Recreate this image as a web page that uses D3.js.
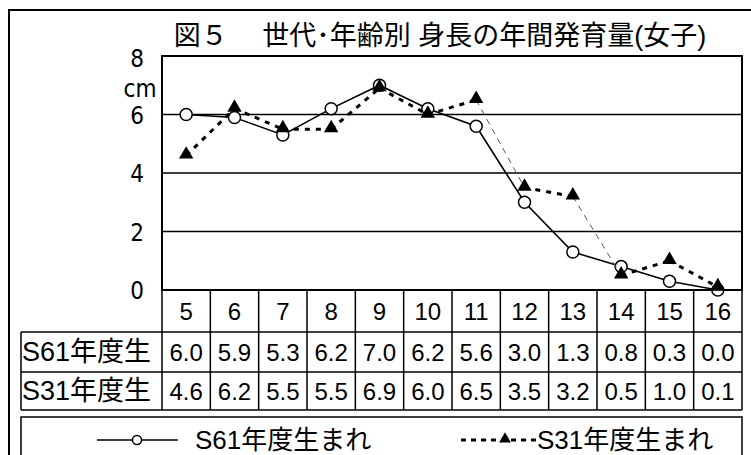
<!DOCTYPE html>
<html>
<head>
<meta charset="utf-8">
<script src="https://cdn.jsdelivr.net/npm/d3@7"></script>
<style>
  body { margin: 0; background: #fff; }
  svg text { fill: #000; }
</style>
</head>
<body>
<div id="chart"></div>
<script>
const ages = ["5", "6", "7", "8", "9", "10", "11", "12", "13", "14", "15", "16"];
const s61 = [6.0, 5.9, 5.3, 6.2, 7.0, 6.2, 5.6, 3.0, 1.3, 0.8, 0.3, 0.0];
const s31 = [4.6, 6.2, 5.5, 5.5, 6.9, 6.0, 6.5, 3.5, 3.2, 0.5, 1.0, 0.1];
const rowLabels = ["S61年度生", "S31年度生"];
const legendLabels = ["S61年度生まれ", "S31年度生まれ"];
const yTicks = [0, 2, 4, 6, 8];
const title = "図５　 世代･年齢別 身長の年間発育量(女子)";

const W = 751, H = 455;
const plot = { left: 162, right: 742, top: 56, bottom: 290 };
const latin = "'Liberation Sans', Arial, sans-serif";
const cjk = "'Liberation Sans', 'Noto Sans CJK JP', sans-serif";
const narrow = "'Liberation Sans Narrow', 'DejaVu Sans Condensed', sans-serif";

const svg = d3.select("#chart").append("svg")
  .attr("width", W).attr("height", H);

// outer frame (runs past the right and bottom edges)
svg.append("rect")
  .attr("x", 9).attr("y", 10).attr("width", 760).attr("height", 470)
  .attr("fill", "none").attr("stroke", "#000").attr("stroke-width", 2);

svg.append("text")
  .attr("x", 440).attr("y", 45)
  .attr("text-anchor", "middle")
  .style("font-family", cjk).style("font-size", "27px")
  .text(title);

const x = d3.scaleBand().domain(ages).range([plot.left, plot.right]);
const y = d3.scaleLinear().domain([0, 8]).range([plot.bottom, plot.top]);
const cx = d => x(d) + x.bandwidth() / 2;

// gridlines
svg.append("g").selectAll("line")
  .data(yTicks.filter(t => t > 0 && t < 8))
  .join("line")
  .attr("x1", plot.left).attr("x2", plot.right)
  .attr("y1", d => y(d)).attr("y2", d => y(d))
  .attr("stroke", "#000").attr("stroke-width", 1.5);

// plot frame
svg.append("rect")
  .attr("x", plot.left).attr("y", plot.top)
  .attr("width", plot.right - plot.left).attr("height", plot.bottom - plot.top)
  .attr("fill", "none").attr("stroke", "#000").attr("stroke-width", 2);

// y axis labels
const yAxis = svg.append("g")
  .attr("transform", `translate(${plot.left - 14},0)`)
  .call(d3.axisLeft(y).tickValues(yTicks).tickSize(0).tickPadding(0));
yAxis.select(".domain").remove();
yAxis.selectAll("text")
  .attr("text-anchor", "middle").attr("x", -11)
  .attr("dy", d => d === 8 ? "0.45em" : "0.36em")
  .style("font-family", narrow)
  .style("font-size", "24px").attr("fill", "#000");
svg.append("text")
  .attr("x", 140).attr("y", 97)
  .attr("text-anchor", "middle")
  .style("font-family", narrow)
  .style("font-size", "24px")
  .text("cm");

// S61 line
const line = d3.line().x((d, i) => cx(ages[i])).y(d => y(d));
svg.append("path")
  .attr("d", line(s61))
  .attr("fill", "none").attr("stroke", "#000").attr("stroke-width", 1.6);
svg.append("g").selectAll("circle")
  .data(s61).join("circle")
  .attr("cx", (d, i) => cx(ages[i])).attr("cy", d => y(d))
  .attr("r", 6)
  .attr("fill", "#fff").attr("stroke", "#000").attr("stroke-width", 1.5);

// S31 line: drawn per segment, steep segments come out thin
const steep = d => Math.abs(d[1][2] - d[0][2]) > 2;
const segs = d3.pairs(s31.map((v, i) => [cx(ages[i]), y(v), v]));
svg.append("g").selectAll("line")
  .data(segs).join("line")
  .attr("x1", d => d[0][0]).attr("y1", d => d[0][1])
  .attr("x2", d => d[1][0]).attr("y2", d => d[1][1])
  .attr("stroke", d => steep(d) ? "#555" : "#000")
  .attr("stroke-width", d => steep(d) ? 1 : 3)
  .attr("stroke-dasharray", d => steep(d) ? "6,5" : "5,6");
const tri = d3.symbol().type(d3.symbolTriangle).size(90);
svg.append("g").selectAll("path")
  .data(s31).join("path")
  .attr("d", tri)
  .attr("transform", (d, i) => `translate(${cx(ages[i])},${y(d) - 1})`)
  .attr("fill", "#000");

// data table
const rowY = [290, 332, 372, 410];
const tableLeft = 21;
const tbl = svg.append("g").attr("stroke", "#000").attr("stroke-width", 1.5);
tbl.append("line").attr("x1", plot.left).attr("x2", plot.right).attr("y1", rowY[0]).attr("y2", rowY[0]);
rowY.slice(1).forEach(yy => {
  tbl.append("line").attr("x1", tableLeft).attr("x2", plot.right).attr("y1", yy).attr("y2", yy);
});
tbl.selectAll(".v").data(ages.concat(["end"])).join("line")
  .attr("x1", (d, i) => plot.left + i * x.bandwidth())
  .attr("x2", (d, i) => plot.left + i * x.bandwidth())
  .attr("y1", rowY[0]).attr("y2", rowY[3]);
tbl.append("line").attr("x1", tableLeft).attr("x2", tableLeft).attr("y1", rowY[1]).attr("y2", rowY[3]);

svg.append("g").selectAll("text")
  .data(ages).join("text")
  .attr("x", d => cx(d)).attr("y", (rowY[0] + rowY[1]) / 2 + 9)
  .attr("text-anchor", "middle")
  .style("font-family", latin).style("font-size", "24px")
  .text(d => d);

[s61, s31].forEach((vals, r) => {
  const ry = (rowY[r + 1] + rowY[r + 2]) / 2 + 9;
  svg.append("text")
    .attr("x", tableLeft + 1).attr("y", ry)
    .style("font-family", cjk).style("font-size", "27px")
    .text(rowLabels[r]);
  svg.append("g").selectAll("text")
    .data(vals).join("text")
    .attr("x", (d, i) => cx(ages[i])).attr("y", ry)
    .attr("text-anchor", "middle")
    .style("font-family", latin).style("font-size", "24px")
    .text(d => d.toFixed(1));
});

// legend
svg.append("rect")
  .attr("x", tableLeft).attr("y", 417).attr("width", plot.right - tableLeft).attr("height", 60)
  .attr("fill", "none").attr("stroke", "#000").attr("stroke-width", 1.5);
const ly = 440;
svg.append("line").attr("x1", 97).attr("x2", 178).attr("y1", ly).attr("y2", ly)
  .attr("stroke", "#000").attr("stroke-width", 1.6);
svg.append("circle").attr("cx", 137).attr("cy", ly).attr("r", 4.5)
  .attr("fill", "#fff").attr("stroke", "#000").attr("stroke-width", 1.5);
svg.append("text").attr("x", 195).attr("y", ly + 9)
  .style("font-family", cjk).style("font-size", "26px").text(legendLabels[0]);
svg.append("line").attr("x1", 461).attr("x2", 537).attr("y1", ly).attr("y2", ly)
  .attr("stroke", "#000").attr("stroke-width", 3).attr("stroke-dasharray", "5,5");
svg.append("path").attr("d", d3.symbol().type(d3.symbolTriangle).size(60))
  .attr("transform", `translate(505,${ly - 1})`).attr("fill", "#000");
svg.append("text").attr("x", 537).attr("y", ly + 9)
  .style("font-family", cjk).style("font-size", "26px").text(legendLabels[1]);
</script>
</body>
</html>
